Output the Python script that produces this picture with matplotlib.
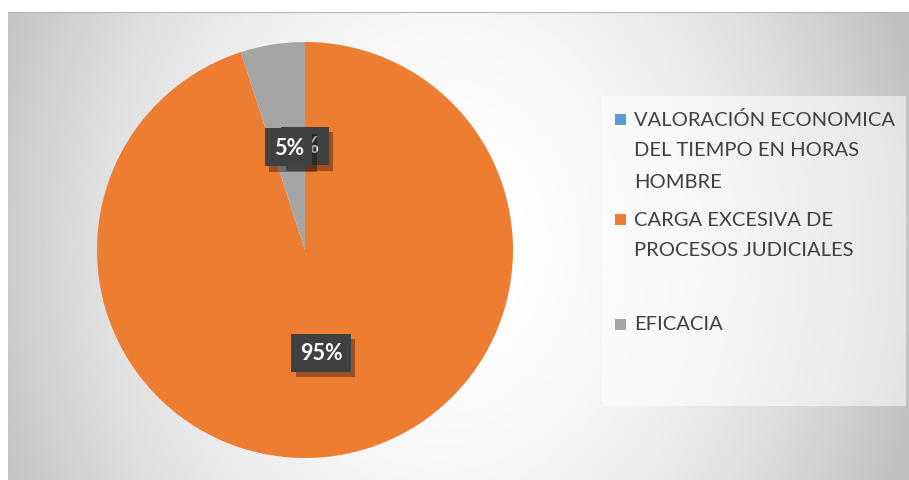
import matplotlib
matplotlib.use("Agg")
import matplotlib.pyplot as plt
import matplotlib.patheffects as pe
import numpy as np
from matplotlib.patches import Rectangle

categories = ["VALORACIÓN ECONOMICA\nDEL TIEMPO EN HORAS\nHOMBRE",
              "CARGA EXCESIVA DE\nPROCESOS JUDICIALES",
              "EFICACIA"]
values = [0, 95, 5]
labels = ["0%", "95%", "5%"]
colors = ["#5B9BD5", "#ED7D31", "#A5A5A5"]

W, H = 909, 481
fig = plt.figure(figsize=(W / 100, H / 100), dpi=100)
plt.rcParams["font.family"] = ["Lato", "DejaVu Sans"]

# chart area background with radial gradient
bg = fig.add_axes([8 / W, 0, (W - 8) / W, (H - 13) / H])
xx, yy = np.meshgrid(np.linspace(-1, 1, 400), np.linspace(-1, 1, 220))
u = xx + 0.03
b = 1 - 0.25 * np.clip(0.85 * u ** 2 + 0.15 * yy ** 2, 0, 1)
bg.imshow(b, cmap="gray", vmin=0, vmax=1, aspect="auto",
          extent=[0, 1, 0, 1], interpolation="bilinear")
bg.plot([0, 1], [1, 1], color="#b4b4b4", lw=1.5)
bg.set_xlim(0, 1)
bg.set_ylim(0, 1)
bg.axis("off")

# legend panel
bg.add_patch(Rectangle(((602 - 8) / (W - 8), (H - 407) / (H - 13)),
                       (906 - 602) / (W - 8), (407 - 97) / (H - 13),
                       facecolor="white", alpha=0.55, edgecolor="none"))

# pie
cx, cy, r = 305, 251, 208
ax = fig.add_axes([(cx - r) / W, (H - cy - r) / H, 2 * r / W, 2 * r / H])
ax.pie(values, colors=colors, startangle=90, counterclock=False,
       radius=1, wedgeprops=dict(linewidth=0))
ax.set_xlim(-1, 1)
ax.set_ylim(-1, 1)
ax.set_aspect("equal")

total = sum(values)
start = 90.0
for i, (v, lab) in enumerate(zip(values, labels)):
    span = 360.0 * v / total
    mid = np.deg2rad(start - span / 2)
    start -= span
    x, y = 0.5 * np.cos(mid), 0.5 * np.sin(mid)
    t = ax.text(x, y, lab, ha="center", va="center", fontsize=15.5,
                fontweight="bold", color="white", zorder=5 + i,
                bbox=dict(boxstyle="square,pad=0.4", facecolor="#404040",
                          edgecolor="none"))
    t.get_bbox_patch().set_path_effects([
        pe.SimplePatchShadow(offset=(3, -4), alpha=0.35, shadow_rgbFace="black"),
        pe.Normal()])

# legend entries
line_h = 31
entry_y = [120, 220, 325]
for cat, col, y0 in zip(categories, colors, entry_y):
    fig.patches.append(Rectangle((615 / W, (H - y0 - 5.5) / H), 11 / W, 11 / H,
                                 facecolor=col, edgecolor="none",
                                 transform=fig.transFigure, figure=fig))
    for k, line in enumerate(cat.split("\n")):
        fig.text(634 / W, (H - y0 - k * line_h) / H, line, ha="left",
                 va="center", fontsize=14.5, color="#404040")

fig.savefig("out.png", dpi=100)
